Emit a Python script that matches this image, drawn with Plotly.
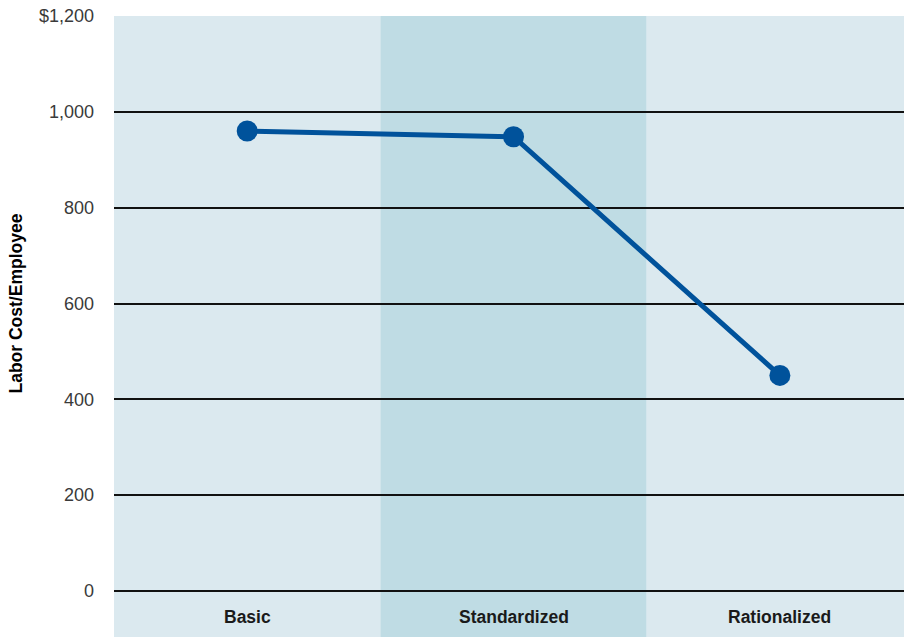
import plotly.graph_objects as go

categories = ["Basic", "Standardized", "Rationalized"]
labor_cost = [960, 948, 450]
tick_values = [0, 200, 400, 600, 800, 1000, 1200]
tick_labels = ["0", "200", "400", "600", "800", "1,000", "$1,200"]
band_colors = ["#dbe9ef", "#bfdce4", "#dbe9ef"]

fig = go.Figure()

x_idx = list(range(len(categories)))

for i, c in enumerate(band_colors):
    fig.add_shape(type="rect", xref="x", yref="paper", x0=i - 0.5, x1=i + 0.5,
                  y0=0, y1=1, fillcolor=c, line_width=0, layer="below")

fig.add_trace(go.Scatter(
    x=x_idx, y=labor_cost, mode="lines+markers",
    line=dict(color="#00529b", width=5),
    marker=dict(color="#00529b", size=21),
    hoverinfo="skip", showlegend=False,
))

for i, cat in enumerate(categories):
    fig.add_annotation(x=i, y=-54, xref="x", yref="y", text="<b>" + cat + "</b>",
                       showarrow=False, font=dict(family="Liberation Sans, Arial", size=17.5, color="#1a1a1a"))

fig.add_annotation(x=-0.1253, y=600, xref="paper", yref="y", xanchor="center", yanchor="middle",
                   text="<b>Labor Cost/Employee</b>",
                   textangle=-90, showarrow=False,
                   font=dict(family="Liberation Sans, Arial", size=17.5, color="#000000"))

fig.update_xaxes(range=[-0.5, 2.466], showgrid=False, zeroline=False, showticklabels=False,
                 showline=False, fixedrange=True)
fig.update_yaxes(range=[-96, 1200], tickvals=tick_values, ticktext=tick_labels,
                 showgrid=True, gridcolor="#111111", gridwidth=1.6,
                 zeroline=False, showline=False, ticks="", ticklabelstandoff=19,
                 tickfont=dict(family="Liberation Sans, Arial", size=18, color="#3a3a3a"))

fig.update_layout(
    width=904, height=637,
    margin=dict(l=114, r=0, t=16, b=0),
    paper_bgcolor="#ffffff", plot_bgcolor="#ffffff",
)

fig.write_html("out.html", config={"displayModeBar": False},
               post_script="document.body.style.margin='0';document.body.style.overflow='hidden';")
